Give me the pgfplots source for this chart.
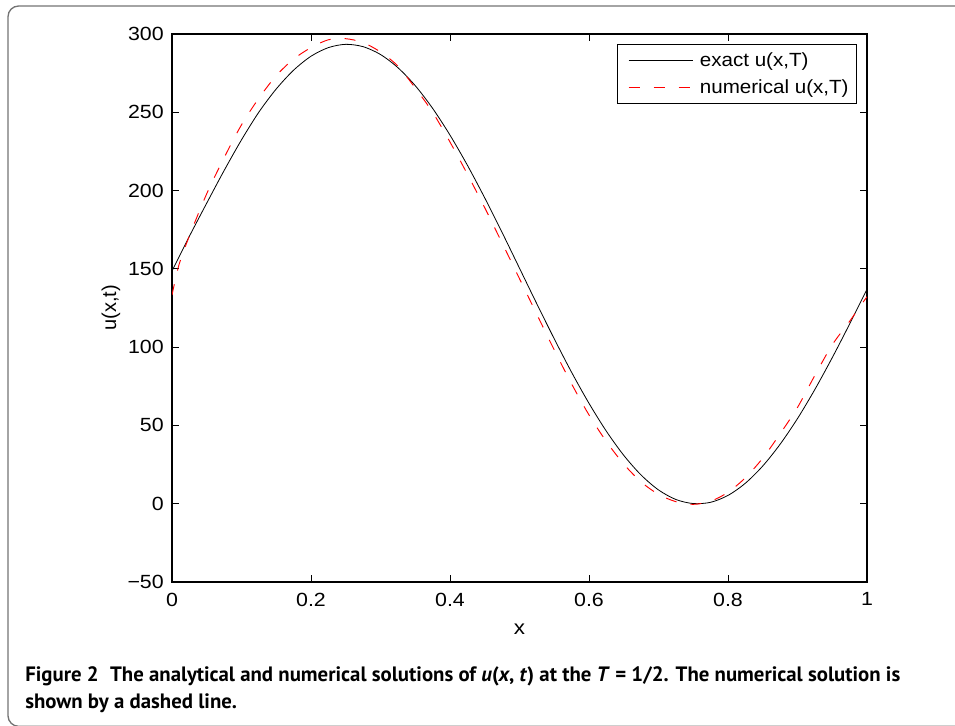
\documentclass[border=0pt]{standalone}
\usepackage{fontspec}
\setmainfont{Liberation Sans}
\newfontfamily\capfont{PT Sans}
\usepackage{pgfplots}
\pgfplotsset{compat=1.18}
\pgfplotstableread{
x u
0 148.6
0.025 170.8
0.05 192.0
0.075 212.8
0.1 232.4
0.125 250.1
0.15 264.9
0.175 276.9
0.2 285.8
0.225 291.3
0.25 293.4
0.275 291.9
0.3 286.9
0.325 278.5
0.35 267.0
0.375 252.5
0.4 235.4
0.425 216.2
0.45 195.3
0.475 173.2
0.5 150.4
0.525 127.6
0.55 105.3
0.575 83.9
0.6 64.1
0.625 46.3
0.65 30.9
0.675 18.3
0.7 8.8
0.725 2.7
0.75 0.1
0.775 0.9
0.8 5.3
0.825 13.1
0.85 24.1
0.875 38.0
0.9 54.4
0.925 73.0
0.95 93.3
0.975 114.8
1 137.0
}\exact
\pgfplotstableread{
x u
0 133.3
0.01 152.5
0.025 171.0
0.05 198.0
0.075 221.0
0.1 242.0
0.125 259.0
0.15 273.4
0.175 284.0
0.2 291.3
0.225 296.3
0.25 297.0
0.275 294.5
0.3 288.5
0.325 279.5
0.35 265.5
0.375 250.0
0.4 231.0
0.425 210.5
0.45 189.0
0.475 166.5
0.5 143.7
0.525 120.9
0.55 98.2
0.575 76.5
0.6 56.7
0.625 39.7
0.65 25.3
0.675 13.9
0.7 6.0
0.725 1.3
0.75 -0.4
0.775 1.6
0.8 7.3
0.825 16.6
0.85 29.1
0.875 44.7
0.9 61.5
0.925 82.0
0.95 101.5
0.975 116.5
0.9875 124.5
1 132.2
}\numerical
\begin{document}
\begin{tikzpicture}
\useasboundingbox (0pt,0pt) rectangle (716.25pt,543.75pt);
\draw[color=black!55, line width=1pt, rounded corners=8pt] (6pt,-1pt) rectangle (760pt,539.25pt);
\begin{axis}[
  scale only axis,
  width=521.25pt, height=411pt,
  at={(129pt,107.25pt)}, anchor=south west,
  xmin=0, xmax=1, ymin=-50, ymax=300,
  xtick={0,0.2,0.4,0.6,0.8,1},
  xticklabels={0,0.2,0.4,0.6,0.8,1},
  ytick={-50,0,50,100,150,200,250,300},
  yticklabels={−50,0,50,100,150,200,250,300},
  tick align=inside,
  major tick length=5pt,
  tick style={black, line width=0.6pt},
  axis line style={line width=0.8pt},
  ticklabel style={font=\fontsize{14.3}{16}\selectfont, xscale=1.12},
  xticklabel style={yshift=-4.5pt},
  yticklabel style={xshift=-2pt},
  label style={font=\fontsize{15}{17}\selectfont},
  xlabel={x}, ylabel={u(x,t)},
  xlabel style={at={(axis description cs:0.5,-0.087)}, anchor=center, xscale=1.12},
  ylabel style={at={(axis description cs:-0.088,0.5)}, anchor=center},
  legend cell align=left,
  legend style={at={(1,1)}, anchor=north east, xshift=-7.5pt, yshift=-7.5pt,
    draw=black, line width=0.6pt, font=\fontsize{14.3}{16}\selectfont,
    inner xsep=4pt, inner ysep=4pt, row sep=4.5pt},
  legend image code/.code={\path (-4.5pt,0pt) (51pt,0pt); \draw[#1] (0pt,0pt) -- (48.5pt,0pt);},
]
\addplot[black, line width=0.6pt, smooth] table[x=x,y=u] {\exact};
\addlegendentry{\scalebox{1.08}[1]{exact u(x,T)}}
\addplot[red, line width=0.7pt, dash pattern=on 8.25pt off 10.5pt, smooth] table[x=x,y=u] {\numerical};
\addlegendentry{\scalebox{1.08}[1]{numerical u(x,T)}}
\end{axis}
\node[anchor=base west, inner sep=0pt, font=\capfont\bfseries\fontsize{15.6}{17}\selectfont] at (18.75pt,32.5pt)
  {Figure 2\hspace{0.55em}The analytical and numerical solutions of \textit{u}(\textit{x}, \textit{t}) at the \textit{T} = 1/2. The numerical solution is};
\node[anchor=base west, inner sep=0pt, font=\capfont\bfseries\fontsize{15.6}{17}\selectfont] at (18.75pt,12.25pt)
  {shown by a dashed line.};
\end{tikzpicture}
\end{document}
